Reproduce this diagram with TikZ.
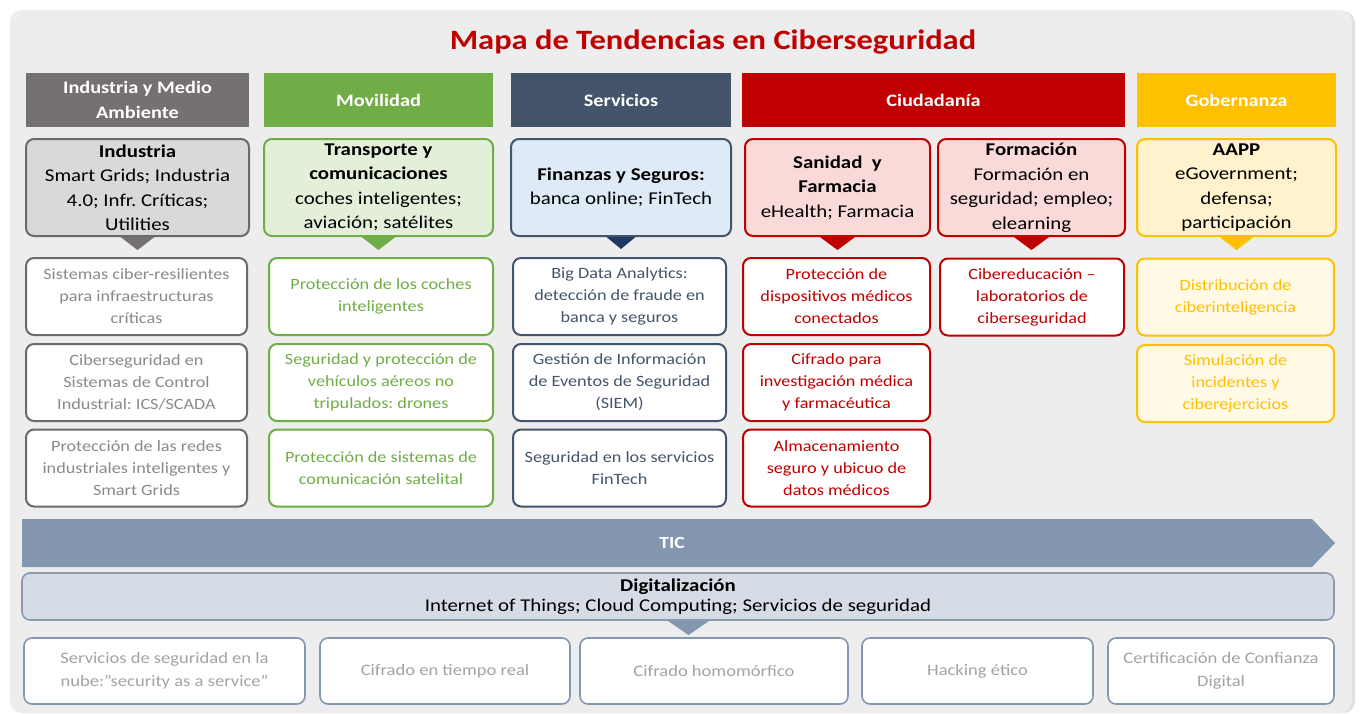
\documentclass[tikz,border=0pt]{standalone}
\usepackage{fontspec}
\setmainfont[FakeStretch=1.16]{Carlito}
\usetikzlibrary{calc}
\frenchspacing
\definecolor{panelc}{HTML}{EDEDED}
\definecolor{indc}{HTML}{767171}
\definecolor{indfill}{HTML}{D9D9D9}
\definecolor{inddraw}{HTML}{6B6B6B}
\definecolor{indtext}{HTML}{8A8A8A}
\definecolor{movc}{HTML}{70AD47}
\definecolor{movfill}{HTML}{E2F0D9}
\definecolor{serc}{HTML}{44546A}
\definecolor{serfill}{HTML}{DEEBF7}
\definecolor{sertri}{HTML}{1F3864}
\definecolor{ciuc}{HTML}{C00000}
\definecolor{ciufill}{HTML}{F9DAD8}
\definecolor{gobc}{HTML}{FFC000}
\definecolor{gobfill}{HTML}{FFF2CC}
\definecolor{gobitem}{HTML}{FFF9E6}
\definecolor{ticc}{HTML}{8497B0}
\definecolor{digfill}{HTML}{D6DCE5}
\definecolor{digdraw}{HTML}{8C9AAE}
\definecolor{bottext}{HTML}{A3A3A3}
\newcommand{\hdrfont}{\fontsize{17.5}{24.5}\selectfont\bfseries}
\newcommand{\catfont}{\fontsize{18}{24.5}\selectfont}
\newcommand{\itemfont}{\fontsize{15.7}{22}\selectfont}
\newcommand{\botfont}{\fontsize{16}{23}\selectfont}
\tikzset{
  hdr/.style={fill=#1, text=white, font=\hdrfont, minimum height=54, inner sep=0, align=center},
  catbox/.style 2 args={fill=#1, draw=#2, line width=2, rounded corners=8, minimum height=97, inner sep=0, align=center, font=\catfont, text=black},
  itembox/.style={draw=#1, text=#1, line width=2, rounded corners=8, fill=white, align=center, inner sep=0, minimum height=77, font=\itemfont},
  botbox/.style={draw=ticc, text=bottext, line width=1.6, rounded corners=8, fill=white, align=center, inner sep=0, minimum height=66, font=\botfont},
}
\begin{document}
\begin{tikzpicture}[x=1pt,y=-1pt]
\useasboundingbox (0,0) rectangle (1360,713);
\fill[white] (0,0) rectangle (1360,713);
\fill[black!12, rounded corners=12] (12,11) rectangle (1355,713);
\fill[panelc, rounded corners=12] (10,10) rectangle (1352,713);

\node[text=ciuc, font=\fontsize{28}{32}\selectfont\bfseries] (title) at (713,42) {Mapa de Tendencias en Ciberseguridad};

% headers
\node[hdr=indc, minimum width=223] (hInd) at (137.5,100) {Industria y Medio\\Ambiente};
\node[hdr=movc, minimum width=229] (hMov) at (378.5,100) {Movilidad};
\node[hdr=serc, minimum width=220] (hSer) at (621,100) {Servicios};
\node[hdr=ciuc, minimum width=383] (hCiu) at (933.5,100) {Ciudadanía};
\node[hdr=gobc, minimum width=199] (hGob) at (1236.5,100) {Gobernanza};

% triangles (behind category boxes)
\fill[indc] (111.5,230) -- (163.5,230) -- (137.5,250) -- cycle;
\fill[movc] (352.5,230) -- (404.5,230) -- (378.5,250) -- cycle;
\fill[sertri] (598,230) -- (644,230) -- (621,249) -- cycle;
\fill[ciuc] (810.5,230) -- (864.5,230) -- (837.5,250) -- cycle;
\fill[ciuc] (1004.5,230) -- (1058.5,230) -- (1031.5,250) -- cycle;
\fill[gobc] (1210.5,230) -- (1262.5,230) -- (1236.5,250) -- cycle;

% category boxes
\node[catbox={indfill}{inddraw}, minimum width=223] (cInd) at (137.5,187.5) {\textbf{Industria}\\Smart Grids; Industria\\4.0; Infr. Críticas;\\Utilities};
\node[catbox={movfill}{movc}, minimum width=229] (cMov) at (378.5,187.5) {\textbf{Transporte y}\\\textbf{comunicaciones}\\coches inteligentes;\\aviación; satélites};
\node[catbox={serfill}{serc}, minimum width=220] (cSer) at (621,187.5) {\textbf{Finanzas y Seguros:}\\banca online; FinTech};
\node[catbox={ciufill}{ciuc}, minimum width=185] (cSan) at (837.5,187.5) {\textbf{Sanidad\ \ y}\\\textbf{Farmacia}\\eHealth; Farmacia};
\node[catbox={ciufill}{ciuc}, minimum width=187] (cFor) at (1031.5,187.5) {\textbf{Formación}\\Formación en\\seguridad; empleo;\\elearning};
\node[catbox={gobfill}{gobc}, minimum width=199] (cGob) at (1236.5,187.5) {\textbf{AAPP}\\eGovernment;\\defensa;\\participación};

% items: Industria
\node[itembox=inddraw, text=indtext, minimum width=221] (i1) at (136.5,296.5) {Sistemas ciber-resilientes\\para infraestructuras\\críticas};
\node[itembox=inddraw, text=indtext, minimum width=221] (i2) at (136.5,382.5) {Ciberseguridad en\\Sistemas de Control\\Industrial: ICS/SCADA};
\node[itembox=inddraw, text=indtext, minimum width=221] (i3) at (136.5,468) {Protección de las redes\\industriales inteligentes y\\Smart Grids};
% Movilidad
\node[itembox=movc, minimum width=224] (m1) at (381,296.5) {Protección de los coches\\inteligentes};
\node[itembox=movc, minimum width=224] (m2) at (381,382.5) {Seguridad y protección de\\vehículos aéreos no\\tripulados: drones};
\node[itembox=movc, minimum width=224] (m3) at (381,468) {Protección de sistemas de\\comunicación satelital};
% Servicios
\node[itembox=serc, minimum width=213] (s1) at (619.5,296.5) {Big Data Analytics:\\detección de fraude en\\banca y seguros};
\node[itembox=serc, minimum width=213] (s2) at (619.5,382.5) {Gestión de Información\\de Eventos de Seguridad\\(SIEM)};
\node[itembox=serc, minimum width=213] (s3) at (619.5,468) {Seguridad en los servicios\\FinTech};
% Sanidad
\node[itembox=ciuc, minimum width=187] (h1) at (836.5,296.5) {Protección de\\dispositivos médicos\\conectados};
\node[itembox=ciuc, minimum width=187] (h2) at (836.5,382.5) {Cifrado para\\investigación médica\\y farmacéutica};
\node[itembox=ciuc, minimum width=187] (h3) at (836.5,468) {Almacenamiento\\seguro y ubicuo de\\datos médicos};
% Formacion
\node[itembox=ciuc, minimum width=184] (f1) at (1032,297) {Cibereducación --\\laboratorios de\\ciberseguridad};
% Gobernanza
\node[itembox=gobc, fill=gobitem, minimum width=197] (g1) at (1235.5,297) {Distribución de\\ciberinteligencia};
\node[itembox=gobc, fill=gobitem, minimum width=197] (g2) at (1235.5,383.5) {Simulación de\\incidentes y\\ciberejercicios};

% TIC band
\fill[ticc] (22,519) -- (1312,519) -- (1335,543) -- (1312,567) -- (22,567) -- cycle;
\node[text=white, font=\fontsize{17}{20}\selectfont\bfseries] (tic) at (672,543) {TIC};

% arrow below digitalizacion (behind)
\fill[ticc] (655,612) -- (722,612) -- (688.5,635) -- cycle;

% Digitalizacion
\node[fill=digfill, draw=digdraw, line width=1.6, rounded corners=8, minimum width=1312, minimum height=47, inner sep=0, align=center, font=\fontsize{18}{20}\selectfont] (dig) at (678,596.5) {\textbf{Digitalización}\\Internet of Things; Cloud Computing; Servicios de seguridad};

% bottom boxes
\node[botbox, minimum width=281] (b1) at (164.5,671) {Servicios de seguridad en la\\nube:"security as a service"};
\node[botbox, minimum width=250] (b2) at (445,671) {Cifrado en tiempo real};
\node[botbox, minimum width=268] (b3) at (714,671) {Cifrado homomórfico};
\node[botbox, minimum width=231] (b4) at (977.5,671) {Hacking ético};
\node[botbox, minimum width=226] (b5) at (1221,671) {Certificación de Confianza\\Digital};
\end{tikzpicture}
\end{document}
